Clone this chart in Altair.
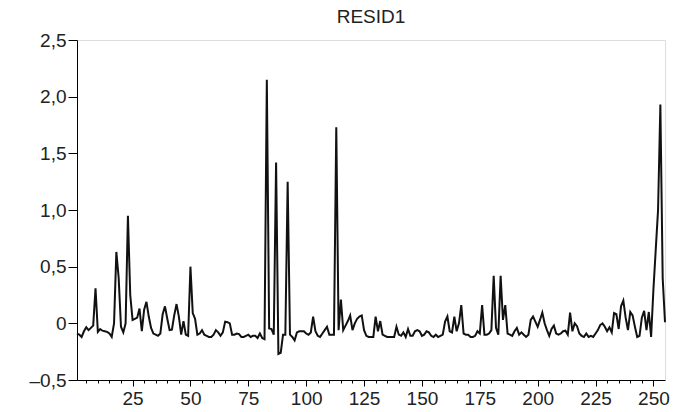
import altair as alt
import pandas as pd

resid1 = [
    -0.09, -0.10, -0.12, -0.07, -0.035, -0.06, -0.04, -0.02, 0.31, -0.075,
    -0.05, -0.065, -0.07, -0.075, -0.09, -0.12, 0.0, 0.63, 0.4, -0.03,
    -0.08, 0.0, 0.95, 0.25, 0.03, 0.04, 0.05, 0.13, -0.07, 0.12,
    0.19, 0.06, -0.04, -0.09, -0.10, -0.11, -0.09, 0.08, 0.15, 0.04,
    -0.06, -0.055, 0.07, 0.17, 0.06, -0.10, 0.02, -0.10, -0.11, 0.5,
    0.09, 0.04, -0.10, -0.09, -0.06, -0.10, -0.11, -0.12, -0.12, -0.10,
    -0.06, -0.08, -0.11, -0.08, 0.015, 0.01, 0.0, -0.10, -0.10, -0.09,
    -0.095, -0.12, -0.12, -0.11, -0.10, -0.12, -0.11, -0.11, -0.13, -0.09,
    -0.13, -0.14, 2.15, -0.045, -0.05, -0.10, 1.42, -0.27, -0.26, -0.10,
    -0.10, 1.25, -0.10, -0.12, -0.15, -0.08, -0.07, -0.07, -0.07, -0.09,
    -0.10, -0.08, 0.06, -0.07, -0.11, -0.12, -0.09, -0.06, -0.03, -0.10,
    -0.10, -0.10, 1.73, -0.06, 0.21, -0.06, -0.02, 0.02, 0.07, -0.06,
    0.0, 0.04, 0.06, 0.07, -0.06, -0.11, -0.12, -0.12, -0.12, 0.06,
    -0.07, 0.02, -0.10, -0.11, -0.12, -0.12, -0.12, -0.12, -0.03, -0.10,
    -0.11, -0.08, -0.12, -0.05, -0.11, -0.11, -0.07, -0.06, -0.07, -0.11,
    -0.10, -0.07, -0.08, -0.11, -0.12, -0.10, -0.12, -0.11, -0.10, 0.015,
    0.06, -0.07, -0.08, 0.06, -0.07, 0.0, 0.16, -0.09, -0.10, -0.10,
    -0.12, -0.12, -0.11, -0.07, -0.09, 0.16, -0.10, -0.10, -0.09, -0.06,
    0.42, -0.04, -0.10, 0.42, 0.03, 0.16, -0.09, -0.10, -0.11, -0.07,
    -0.04, -0.10, -0.08, -0.10, -0.12, -0.10, 0.03, 0.06, 0.015, -0.03,
    0.03, 0.095, 0.0, -0.06, -0.11, -0.05, -0.02, -0.09, -0.10, -0.09,
    -0.07, -0.065, -0.10, 0.095, -0.07, 0.0, -0.025, -0.09, -0.11, -0.12,
    -0.09, -0.12, -0.11, -0.12, -0.09, -0.06, -0.015, 0.0, -0.03, -0.07,
    -0.035, -0.08, 0.09, 0.08, -0.05, 0.15, 0.2, 0.05, -0.06, 0.1,
    0.07, -0.03, -0.12, -0.11, 0.05, 0.11, -0.06, 0.1, -0.12, 0.3,
    0.65, 1.0, 1.93, 0.4, 0.01,
]
obs = list(range(1, len(resid1) + 1))
x_ticks = list(range(5, 255, 5))
y_ticks = [-0.5, 0.0, 0.5, 1.0, 1.5, 2.0, 2.5]

df = pd.DataFrame({"obs": obs, "RESID1": resid1})

TITLE_FONT = "Liberation Sans"
LABEL_FONT = "Liberation Sans Narrow, Liberation Sans"

chart = (
    alt.Chart(df)
    .mark_line(color="#111111", strokeWidth=2)
    .encode(
        x=alt.X(
            "obs:Q",
            scale=alt.Scale(domain=[1, 255], nice=False, zero=False),
            axis=alt.Axis(
                values=x_ticks,
                title=None,
                grid=False,
                labelExpr="datum.value % 25 == 0 ? datum.label : ''",
                labelOverlap=False,
                labelFlush=False,
                tickSize={"condition": {"test": "datum.value % 25 == 0", "value": 6}, "value": 3},
                tickColor="black",
                domainColor="black",
                labelColor="#222222",
                labelFont=LABEL_FONT,
                labelFontSize=19,
                labelPadding=3,
            ),
        ),
        y=alt.Y(
            "RESID1:Q",
            scale=alt.Scale(domain=[-0.5, 2.5], nice=False, zero=False),
            axis=alt.Axis(
                values=y_ticks,
                title=None,
                grid=False,
                labelExpr="datum.value == 0 ? '0' : (datum.value < 0 ? '\u2013' : '') + replace(format(abs(datum.value), '.1f'), '.', ',')",
                tickSize=9,
                tickColor="black",
                domainColor="black",
                labelColor="#222222",
                labelFont=LABEL_FONT,
                labelFontSize=19,
                labelPadding=2,
                labelBaseline="middle",
            ),
        ),
    )
    .properties(
        width=588,
        height=340,
        title=alt.TitleParams(
            "RESID1", font=TITLE_FONT, fontSize=19, fontWeight="normal",
            color="#222222", anchor="middle", offset=4,
        ),
        autosize=alt.AutoSizeParams(type="none"),
        padding={"left": 77, "top": 40, "right": 19, "bottom": 32},
    )
    .configure_view(stroke="black", strokeWidth=1)
    .configure(background="white")
)

chart.save("out.html", embed_options={"renderer": "svg", "actions": False})
